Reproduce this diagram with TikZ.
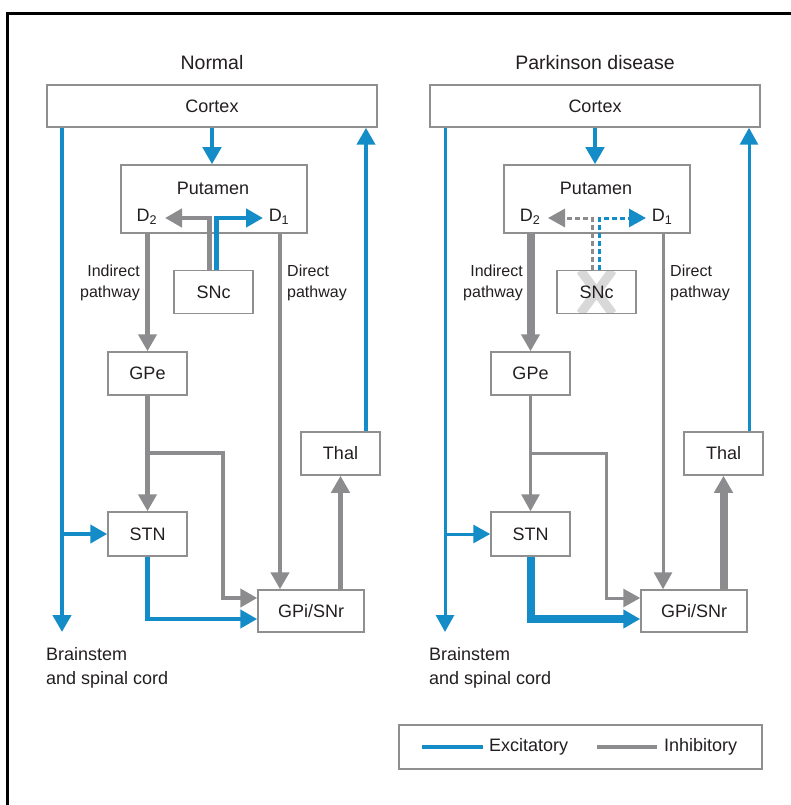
\documentclass[tikz,border=0pt]{standalone}
\usepackage{fontspec}
\setmainfont{Liberation Sans}
\usetikzlibrary{arrows.meta}
\definecolor{exc}{HTML}{138CC7}
\definecolor{inh}{HTML}{8C8C8E}
\definecolor{boxc}{HTML}{8F8F8F}
\definecolor{txt}{HTML}{231F20}
\definecolor{xgray}{HTML}{D8D8D8}
\tikzset{
  tip/.style={-{Triangle[width=18pt,length=17pt]}},
  box/.style={draw=boxc, line width=1.5pt, fill=white, inner sep=0pt, text=txt, font=\fontsize{18}{22}\selectfont},
  lbl/.style={text=txt, inner sep=0pt, font=\fontsize{18}{24}\selectfont},
  ttl/.style={text=txt, inner sep=0pt, font=\fontsize{19.5}{24}\selectfont},
  smalllbl/.style={text=txt, inner sep=0pt, font=\fontsize{16}{21}\selectfont},
  exline/.style={draw=exc, tip},
  inhline/.style={draw=inh, tip},
  cpline/.style={exline, line width=4.5pt},
  brainL/.style={exline, line width=4.5pt}, brainR/.style={exline, line width=3pt},
  thalL/.style={exline, line width=4.5pt}, thalR/.style={exline, line width=3pt},
  stngpiL/.style={exline, line width=4.5pt}, stngpiR/.style={exline, line width=8pt},
  indL/.style={inhline, line width=4.5pt}, indR/.style={inhline, line width=8pt},
  dirL/.style={inhline, line width=4.5pt}, dirR/.style={inhline, line width=3pt},
  gpestnL/.style={inhline, line width=4.5pt}, gpestnR/.style={inhline, line width=3pt},
  gpithalL/.style={inhline, line width=4.5pt}, gpithalR/.style={inhline, line width=8pt},
  sncgL/.style={inhline, line width=4.5pt},
  sncgR/.style={inhline, line width=3pt, dash pattern=on 5pt off 3pt},
  sncbL/.style={exline, line width=4.5pt},
  sncbR/.style={exline, line width=3pt, dash pattern=on 5pt off 3pt},
  sncxL/.style={},
  sncxR/.style={path picture={
      \draw[xgray, line width=9pt]
        ([xshift=-16pt]path picture bounding box.north) -- ([xshift=16pt]path picture bounding box.south);
      \draw[xgray, line width=9pt]
        ([xshift=16pt]path picture bounding box.north) -- ([xshift=-16pt]path picture bounding box.south);}},
}
\newcommand\drawpanel[3]{%
\begin{scope}[shift={(#2,0)}]
  \coordinate (xbr#1) at (62,0);
  \coordinate (xcp#1) at (212,0);
  \coordinate (xdir#1) at (280,0);
  \coordinate (xgs#1) at (209.5,0);
  \coordinate (xbs#1) at (216.5,0);
  \coordinate (xth#1) at (366,0);
  \coordinate (xbend#1) at (223,0);
  \coordinate (ybend#1) at (0,453);
  \coordinate (ya#1) at (0,598);
  \coordinate (yb#1) at (0,619);
  \coordinate (d2tip#1) at (165,218);
  \coordinate (d1tip#1) at (263,218);
  \coordinate (brend#1) at (62,632);
  \node[ttl] (title#1) at (212,63) {#3};
  \node[box, minimum width=330pt, minimum height=42pt] (cortex#1) at (212,106) {Cortex};
  \node[box, minimum width=186pt, minimum height=68pt] (put#1) at (214,199) {};
  \node[lbl] (putlbl#1) at (213,188) {Putamen};
  \node[lbl] (dtwo#1) at (147,217) {D\textsubscript{2}};
  \node[lbl] (done#1) at (279,217) {D\textsubscript{1}};
  \node[box, minimum width=79pt, minimum height=43pt, sncx#1] (snc#1) at (213.5,292) {SNc};
  \node[box, minimum width=79pt, minimum height=43pt] (gpe#1) at (147.5,373.5) {GPe};
  \node[box, minimum width=79pt, minimum height=44pt] (stn#1) at (147.5,534) {STN};
  \node[box, minimum width=106pt, minimum height=42pt] (gpi#1) at (311,611) {GPi/SNr};
  \node[box, minimum width=79pt, minimum height=43pt] (thal#1) at (340.5,453.5) {Thal};
  \node[smalllbl, align=right, anchor=east] (indlbl#1) at (140,282.5) {Indirect\\pathway};
  \node[smalllbl, align=left, anchor=west] (dirlbl#1) at (287,282.5) {Direct\\pathway};
  \node[lbl, align=left, anchor=west] (bslbl#1) at (46,668) {Brainstem\\and spinal cord};
  % connectors
  \draw[cpline] (cortex#1.south -| xcp#1) -- (put#1.north -| xcp#1);
  \draw[brain#1] (cortex#1.south -| xbr#1) -- (brend#1);
  \draw[brain#1] (stn#1.west -| xbr#1) -- (stn#1.west);
  \draw[sncg#1] (snc#1.north -| xgs#1) |- (d2tip#1);
  \draw[sncb#1] (snc#1.north -| xbs#1) |- (d1tip#1);
  \draw[ind#1] (put#1.south -| gpe#1.north) -- (gpe#1.north);
  \draw[dir#1] (put#1.south -| xdir#1) -- (gpi#1.north -| xdir#1);
  \draw[gpestn#1] (gpe#1.south) -- (stn#1.north);
  \draw[gpestn#1] (gpe#1.south |- ybend#1) -| (xbend#1 |- ya#1) -- (gpi#1.west |- ya#1);
  \draw[stngpi#1] (stn#1.south) |- (gpi#1.west |- yb#1);
  \draw[gpithal#1] (gpi#1.north -| thal#1.south) -- (thal#1.south);
  \draw[thal#1] (thal#1.north -| xth#1) -- (cortex#1.south -| xth#1);
\end{scope}}
\begin{document}
\begin{tikzpicture}[x=1pt, y=-1pt]
  \useasboundingbox (0,0) rectangle (791,805);
  \fill[white] (0,0) rectangle (791,805);
  \draw[black, line width=2.5pt] (7.5,805) -- (7.5,13.5) -- (791,13.5);
  \drawpanel{L}{0}{Normal}
  \drawpanel{R}{383}{Parkinson disease}
  % legend
  \node[box, minimum width=363pt, minimum height=44pt] (legend) at (580.5,747) {};
  \draw[exc, line width=3.5pt] (422,747) -- (483,747);
  \node[lbl, anchor=west] (exlbl) at (489,747) {Excitatory};
  \draw[inh, line width=3.5pt] (597,747) -- (657,747);
  \node[lbl, anchor=west] (inlbl) at (664,747) {Inhibitory};
\end{tikzpicture}
\end{document}
